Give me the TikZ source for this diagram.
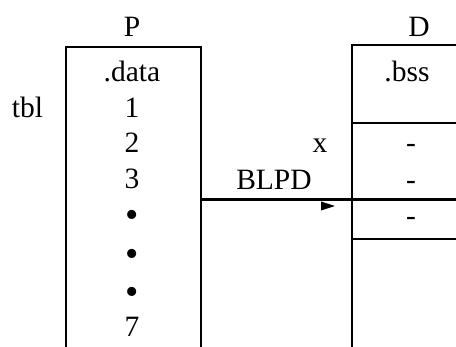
\documentclass[tikz,border=0pt]{standalone}
\usepackage{fontspec}
\setmainfont{Liberation Serif}
\begin{document}
\begin{tikzpicture}[x=1pt,y=-1pt,
  lbl/.style={font=\fontsize{29.5}{34}\selectfont, inner sep=0pt, anchor=base},
  dot/.style={inner sep=0pt, anchor=center, font=\fontsize{38}{40}\selectfont},
  frame/.style={line width=2pt},
  link/.style={line width=3pt}]
\useasboundingbox (0,0) rectangle (456,347);

% segment P: open-ended frame
\coordinate (pBL) at (66,347);
\coordinate (pTL) at (66,47);
\coordinate (pTR) at (201,47);
\coordinate (pBR) at (201,347);
\draw[frame] (pBL) -- (pTL) -- (pTR) -- (pBR);

% segment D: open on the right and below
\coordinate (dBL) at (352,347);
\coordinate (dTL) at (352,45);
\coordinate (dTR) at (456,45);
\coordinate (dS1L) at (352,123.5);
\coordinate (dS1R) at (456,123.5);
\coordinate (dS3L) at (352,239.3);
\coordinate (dS3R) at (456,239.3);
\draw[frame] (dBL) -- (dTL) -- (dTR);
\draw[frame] (dS1L) -- (dS1R);
\draw[frame] (dS3L) -- (dS3R);

% pointer from P into D
\coordinate (pOut) at (201,200);
\coordinate (dEnd) at (456,200);
\draw[link] (pOut) -- (dEnd);
\fill (321,201.5) -- (335,206) -- (321,210.5) -- cycle;

% labels
\node[lbl] (pname) at (132,36.7) {P};
\node[lbl] (dname) at (419,36.7) {D};
\node[lbl] (tbl) at (27.5,118) {tbl};

\node[lbl] (sdata) at (132,81.7) {.data};
\node[lbl] (e1) at (132,118) {1};
\node[lbl] (e2) at (132,152.5) {2};
\node[lbl] (e3) at (132,189) {3};
\node[dot] (b1) at (132,219) {•};
\node[dot] (b2) at (132,258) {•};
\node[dot] (b3) at (132,296) {•};
\node[lbl] (e7) at (132,337) {7};

\node[lbl] (bss) at (407,81.7) {.bss};
\node[lbl] (xv) at (320,153) {x};
\node[lbl] (blpd) at (274,190) {BLPD};
\node[lbl] (m1) at (411,153) {-};
\node[lbl] (m2) at (411,190) {-};
\node[lbl] (m3) at (411,226) {-};
\end{tikzpicture}
\end{document}
